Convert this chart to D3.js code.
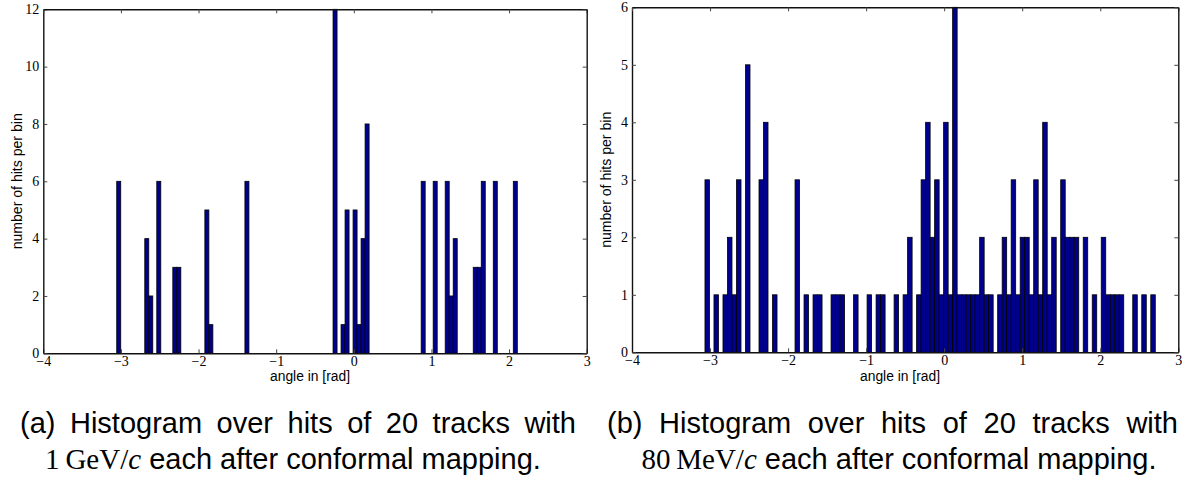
<!DOCTYPE html>
<html lang="en">
<head>
<meta charset="UTF-8">
<title>Hit histograms after conformal mapping</title>
<script src="https://d3js.org/d3.v7.min.js"></script>
<style>
  body { margin: 0; background: #fff; }
  svg { display: block; }
  .tick text { font-family: "Liberation Serif", "Times New Roman", serif; font-size: 14px; fill: #000; }
  .lbl { font-family: "Liberation Sans", Arial, sans-serif; font-size: 14px; fill: #000; }
  .cap { font-family: "Liberation Sans", Arial, sans-serif; font-size: 29px; fill: #000; }
</style>
</head>
<body>
<svg id="chart" width="1198" height="481"></svg>
<script>
// counts per bin (100 equal bins each)
const countsA = [
  6,0,0,0,0,0,0,4,2,0,
  6,0,0,0,3,3,0,0,0,0,
  0,0,5,1,0,0,0,0,0,0,
  0,0,6,0,0,0,0,0,0,0,
  0,0,0,0,0,0,0,0,0,0,
  0,0,0,0,12,0,1,5,0,5,
  1,4,8,0,0,0,0,0,0,0,
  0,0,0,0,0,0,6,0,0,6,
  0,0,6,2,4,0,0,0,0,3,
  3,6,0,0,6,0,0,0,0,6
];
const countsB = [
  3,0,1,0,1,2,1,3,0,5,
  0,0,3,4,0,1,0,0,0,0,
  3,0,1,0,1,1,0,0,1,1,
  1,0,0,1,0,0,1,0,1,1,
  0,0,1,0,1,2,0,1,3,4,
  2,3,1,4,1,6,1,1,1,1,
  1,2,1,1,0,1,2,1,3,1,
  2,2,1,3,1,4,1,2,0,3,
  2,2,2,0,2,0,1,0,2,1,
  1,1,1,0,0,1,0,1,0,1
];
const binStartA = -3.054, binWidthA = 0.0516;
const binStartB = -3.065, binWidthB = 0.0577;

const xDomain = [-4, 3];
const xTicks = [-4, -3, -2, -1, 0, 1, 2, 3];
const yTicksA = [0, 2, 4, 6, 8, 10, 12];
const yTicksB = [0, 1, 2, 3, 4, 5, 6];
const xLabel = "angle in [rad]";
const yLabel = "number of hits per bin";

const captionA1 = "(a) Histogram over hits of 20 tracks with";
const captionA2 = [["1\u2009GeV/", "serif"], ["c", "italic"], [" each after conformal mapping.", "sans"]];
const captionB1 = "(b) Histogram over hits of 20 tracks with";
const captionB2 = [["80\u2009MeV/", "serif"], ["c", "italic"], [" each after conformal mapping.", "sans"]];

const svg = d3.select("#chart");
const fmt = d3.format("d");

function drawPanel(p) {
  const x = d3.scaleLinear().domain(xDomain).range([p.left, p.right]);
  const y = d3.scaleLinear().domain([0, d3.max(p.yTicks)]).range([p.bottom, p.top]);
  const g = svg.append("g");

  // bars
  g.selectAll("rect.bar")
    .data(p.counts.map((c, i) => ({ c: c, x0: p.binStart + i * p.binWidth })).filter(d => d.c > 0))
    .enter().append("rect")
    .attr("class", "bar")
    .attr("x", d => x(d.x0))
    .attr("width", x(p.binWidth) - x(0))
    .attr("y", d => y(d.c))
    .attr("height", d => p.bottom - y(d.c))
    .attr("fill", "#00008f")
    .attr("stroke", "#000")
    .attr("stroke-width", 0.8);

  // axes, ticks pointing inward on all four sides
  const bottom = g.append("g").attr("transform", `translate(0,${p.bottom})`)
    .call(d3.axisBottom(x).tickValues(xTicks).tickFormat(fmt).tickSizeInner(-4).tickSizeOuter(0).tickPadding(3));
  const left = g.append("g").attr("transform", `translate(${p.left},0)`)
    .call(d3.axisLeft(y).tickValues(p.yTicks).tickFormat(fmt).tickSizeInner(-4).tickSizeOuter(0).tickPadding(4));
  const top = g.append("g").attr("transform", `translate(0,${p.top})`)
    .call(d3.axisTop(x).tickValues(xTicks).tickSizeInner(-4).tickSizeOuter(0).tickFormat(""));
  const right = g.append("g").attr("transform", `translate(${p.right},0)`)
    .call(d3.axisRight(y).tickValues(p.yTicks).tickSizeInner(-4).tickSizeOuter(0).tickFormat(""));

  [bottom, left, top, right].forEach(a => {
    a.select(".domain").attr("stroke", "#111").attr("stroke-width", 1.4);
    a.selectAll(".tick line").attr("stroke", "#444");
  });
  left.selectAll(".tick text").attr("dy", "0.3em");

  g.append("text").attr("class", "lbl")
    .attr("x", p.xLabelX).attr("y", 381)
    .attr("text-anchor", "middle")
    .attr("textLength", 80).attr("lengthAdjust", "spacingAndGlyphs")
    .text(xLabel);

  g.append("text").attr("class", "lbl")
    .attr("transform", `translate(${p.yLabelX},${(p.top + p.bottom) / 2}) rotate(-90)`)
    .attr("text-anchor", "middle")
    .attr("textLength", 136).attr("lengthAdjust", "spacingAndGlyphs")
    .text(yLabel);
}

function drawCaption(line1, line2, x0, x1, cx2) {
  // first line is justified across the subfigure width
  const t1 = svg.append("text").attr("class", "cap")
    .attr("x", x0).attr("y", 433)
    .text(line1);
  const natural = t1.node().getComputedTextLength();
  const gaps = line1.split(" ").length - 1;
  t1.style("word-spacing", Math.max(0, (x1 - x0 - natural) / gaps) + "px");

  const t2 = svg.append("text").attr("class", "cap")
    .attr("x", cx2).attr("y", 469)
    .attr("text-anchor", "middle");
  line2.forEach(([s, kind]) => {
    const ts = t2.append("tspan").text(s);
    if (kind !== "sans") ts.style("font-family", "'Liberation Serif', 'Times New Roman', serif");
    if (kind === "italic") ts.style("font-style", "italic");
  });
}

drawPanel({ counts: countsA, binStart: binStartA, binWidth: binWidthA, yTicks: yTicksA,
  left: 43.3, right: 586.7, top: 9.3, bottom: 353.3, xLabelX: 310, yLabelX: 21.5 });
drawPanel({ counts: countsB, binStart: binStartB, binWidth: binWidthB, yTicks: yTicksB,
  left: 632, right: 1178.3, top: 7.3, bottom: 352.3, xLabelX: 900, yLabelX: 611 });

drawCaption(captionA1, captionA2, 20, 576, 293);
drawCaption(captionB1, captionB2, 607, 1178, 899);
</script>
</body>
</html>
